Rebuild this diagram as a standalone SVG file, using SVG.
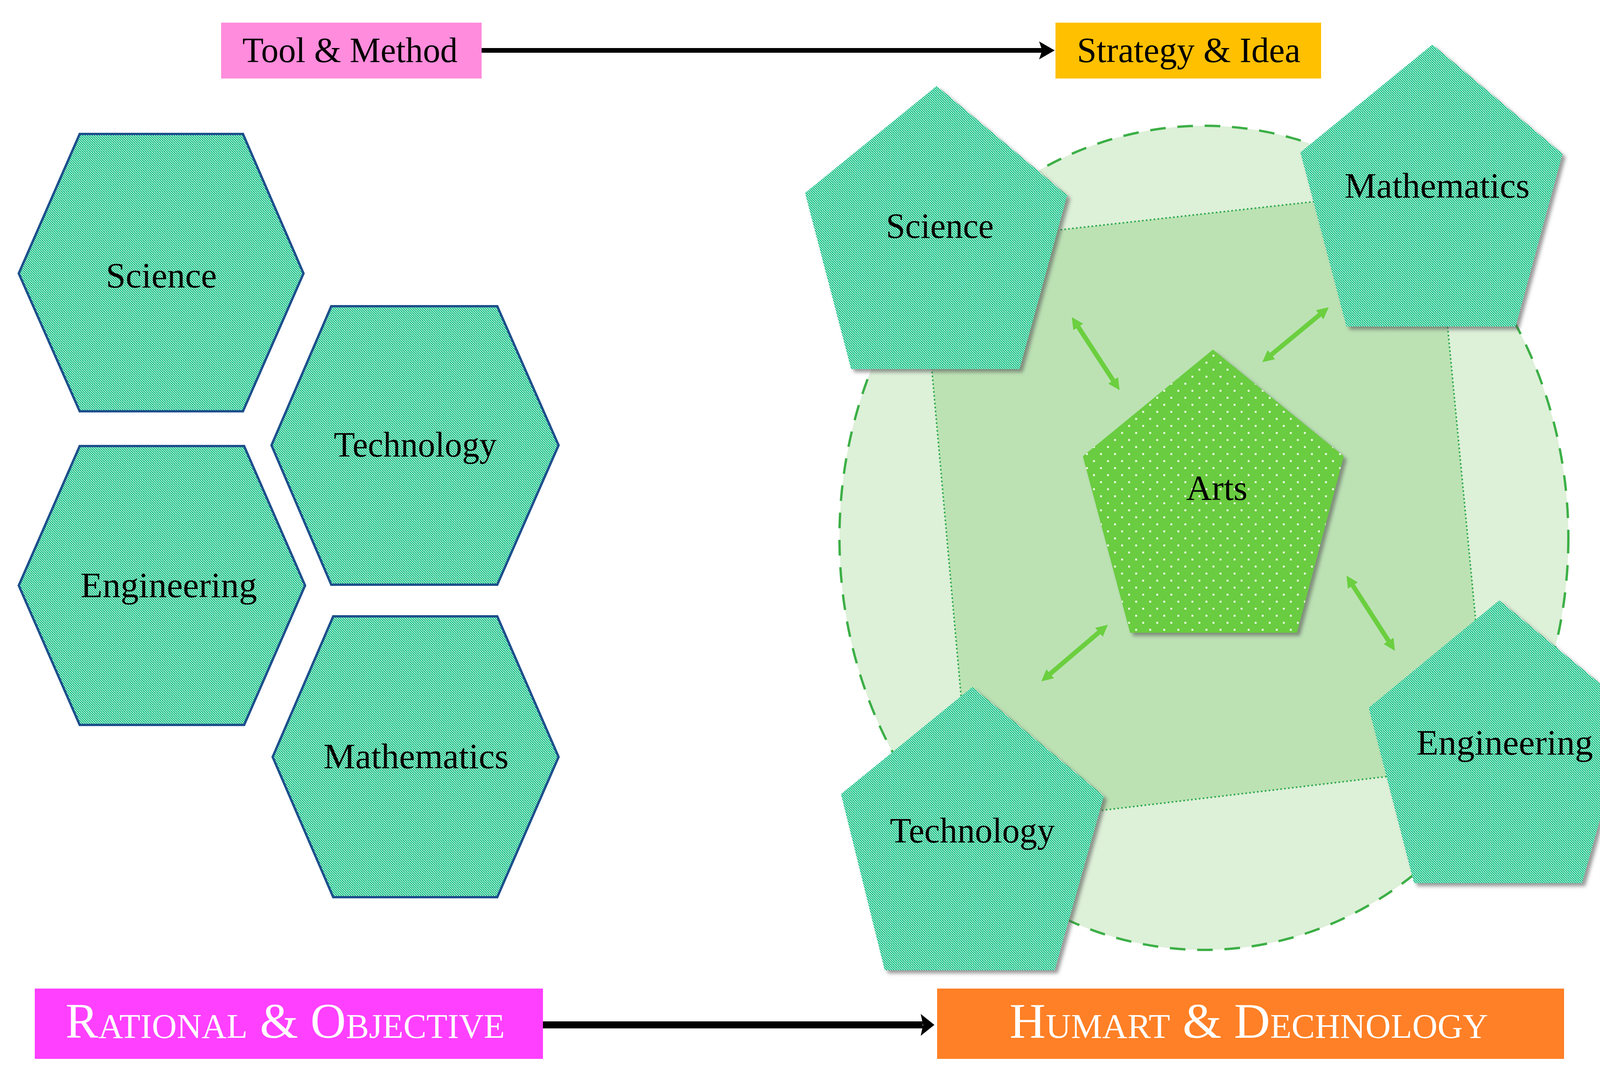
<svg xmlns="http://www.w3.org/2000/svg" width="4222" height="2760" viewBox="0 0 4222 2760">
<style>
.lbl{font-family:"Liberation Serif","DejaVu Serif",serif;font-size:92px;fill:#000;text-anchor:middle}
.hex{fill:url(#teal);stroke:#1D4F8C;stroke-width:6}
.pent{fill:url(#teal);filter:url(#shadow)}
.big{font-family:"Liberation Serif","DejaVu Serif",serif;fill:#fff;text-anchor:middle;font-variant:small-caps;font-size:127px}
.garrow{stroke:#6BCF3F;stroke-width:12;fill:none;marker-start:url(#gh);marker-end:url(#gh)}
</style>
<defs>
<pattern id="teal" width="6" height="6" patternUnits="userSpaceOnUse">
<rect width="6" height="6" fill="#05BD7E"/>
<rect x="0" y="0" width="2" height="2" fill="#fff"/>
<rect x="2" y="2" width="2" height="2" fill="#fff"/>
<rect x="4" y="4" width="2" height="2" fill="#fff"/>
<rect x="4" y="0" width="2" height="2" fill="#3ccb98"/>
</pattern>
<pattern id="dots" width="36" height="36" patternUnits="userSpaceOnUse">
<rect width="36" height="36" fill="#6ACC40"/>
<rect x="8" y="8" width="5" height="5" fill="#E4F6DC"/>
<rect x="26" y="26" width="5" height="5" fill="#E4F6DC"/>
</pattern>
<filter id="shadow" x="-10%" y="-10%" width="125%" height="125%">
<feDropShadow dx="8" dy="8" stdDeviation="5" flood-color="#555" flood-opacity="0.6"/>
</filter>
<marker id="gh" viewBox="0 0 10 10" refX="2" refY="5" markerWidth="34" markerHeight="30" markerUnits="userSpaceOnUse" orient="auto-start-reverse">
<path d="M0,0 L10,5 L0,10 z" fill="#6BCF3F"/>
</marker>
<marker id="bh1" viewBox="0 0 40 46" refX="10" refY="23" markerWidth="40" markerHeight="46" markerUnits="userSpaceOnUse" orient="auto">
<path d="M0,0 L40,23 L0,46 L8,23 z" fill="#000"/>
</marker>
<marker id="bh2" viewBox="0 0 35 56" refX="5" refY="28" markerWidth="35" markerHeight="56" markerUnits="userSpaceOnUse" orient="auto">
<path d="M0,0 L35,28 L0,56 L6,28 z" fill="#000"/>
</marker>
</defs>
<rect width="4222" height="2760" fill="#fff"/>

<g id="background">
<ellipse cx="3082" cy="1377" rx="933" ry="1055" fill="#DDF0D8" stroke="#3CAF46" stroke-width="6" stroke-dasharray="40 30"/>
<polygon points="2357,628 3672,482 3813,1957 2490,2114" fill="#BCE2B4" stroke="#2AA84A" stroke-width="4" stroke-dasharray="4 6"/>
</g>

<g id="connectors">
<line x1="1231" y1="129" x2="2670" y2="129" stroke="#000" stroke-width="12" marker-end="url(#bh1)"/>
<line x1="1390" y1="2624" x2="2362" y2="2624" stroke="#000" stroke-width="18" marker-end="url(#bh2)"/>
<line class="garrow" x1="2757" y1="832" x2="2853" y2="979"/>
<line class="garrow" x1="3383" y1="802" x2="3250" y2="912"/>
<line class="garrow" x1="2684" y1="1729" x2="2818" y2="1615"/>
<line class="garrow" x1="3460" y1="1494" x2="3558" y2="1646"/>
</g>

<g id="tool-method">
<rect x="566" y="58" width="667" height="143" fill="#FF8CDC"/>
<text class="lbl" x="896" y="159" font-size="90" textLength="551" lengthAdjust="spacingAndGlyphs">Tool &amp; Method</text>
</g>
<g id="strategy-idea">
<rect x="2702" y="58" width="680" height="143" fill="#FFC000"/>
<text class="lbl" x="3043" y="159" font-size="90" textLength="572" lengthAdjust="spacingAndGlyphs">Strategy &amp; Idea</text>
</g>

<g id="hex-science">
<polygon class="hex" points="204,343 622,343 777,700 622,1053 204,1053 48,700"/>
<text class="lbl" x="413" y="736" textLength="284" lengthAdjust="spacingAndGlyphs">Science</text>
</g>
<g id="hex-technology">
<polygon class="hex" points="848,784 1273,784 1430,1140 1273,1497 848,1497 695,1140"/>
<text class="lbl" x="1063" y="1169" textLength="417" lengthAdjust="spacingAndGlyphs">Technology</text>
</g>
<g id="hex-engineering">
<polygon class="hex" points="204,1142 625,1142 781,1499 625,1856 204,1856 48,1499"/>
<text class="lbl" x="432" y="1529" textLength="452" lengthAdjust="spacingAndGlyphs">Engineering</text>
</g>
<g id="hex-mathematics">
<polygon class="hex" points="853,1578 1273,1578 1430,1938 1273,2297 853,2297 698,1938"/>
<text class="lbl" x="1065" y="1967" textLength="474" lengthAdjust="spacingAndGlyphs">Mathematics</text>
</g>

<g id="pent-science">
<polygon class="pent" points="2398,220 2732,500 2610,945 2179,945 2061,494"/>
<text class="lbl" x="2406" y="609" textLength="276" lengthAdjust="spacingAndGlyphs">Science</text>
</g>
<g id="pent-mathematics">
<polygon class="pent" points="3667,114 4000,394 3880,836 3447,836 3329,390"/>
<text class="lbl" x="3679" y="506" textLength="474" lengthAdjust="spacingAndGlyphs">Mathematics</text>
</g>
<g id="pent-technology">
<polygon class="pent" points="2489,1759 2826,2038 2700,2484 2265,2484 2153,2033"/>
<text class="lbl" x="2489" y="2157" textLength="422" lengthAdjust="spacingAndGlyphs">Technology</text>
</g>
<g id="pent-engineering">
<polygon class="pent" points="3838,1537 4176,1816 4050,2261 3620,2261 3504,1812"/>
<text class="lbl" x="3852" y="1932" textLength="452" lengthAdjust="spacingAndGlyphs">Engineering</text>
</g>
<g id="pent-arts">
<polygon points="3105,895 3440,1168 3320,1620 2893,1620 2772,1168" fill="url(#dots)" filter="url(#shadow)"/>
<text class="lbl" x="3115" y="1280" textLength="157" lengthAdjust="spacingAndGlyphs">Arts</text>
</g>

<g id="rational-objective">
<rect x="89" y="2531" width="1301" height="180" fill="#FF40FF"/>
<text class="big" x="730" y="2657" textLength="1125" lengthAdjust="spacingAndGlyphs">Rational &amp; Objective</text>
</g>
<g id="humart-dechnology">
<rect x="2399" y="2531" width="1605" height="180" fill="#FF8026"/>
<text class="big" x="3197" y="2657" textLength="1225" lengthAdjust="spacingAndGlyphs">Humart &amp; Dechnology</text>
</g>
</svg>
